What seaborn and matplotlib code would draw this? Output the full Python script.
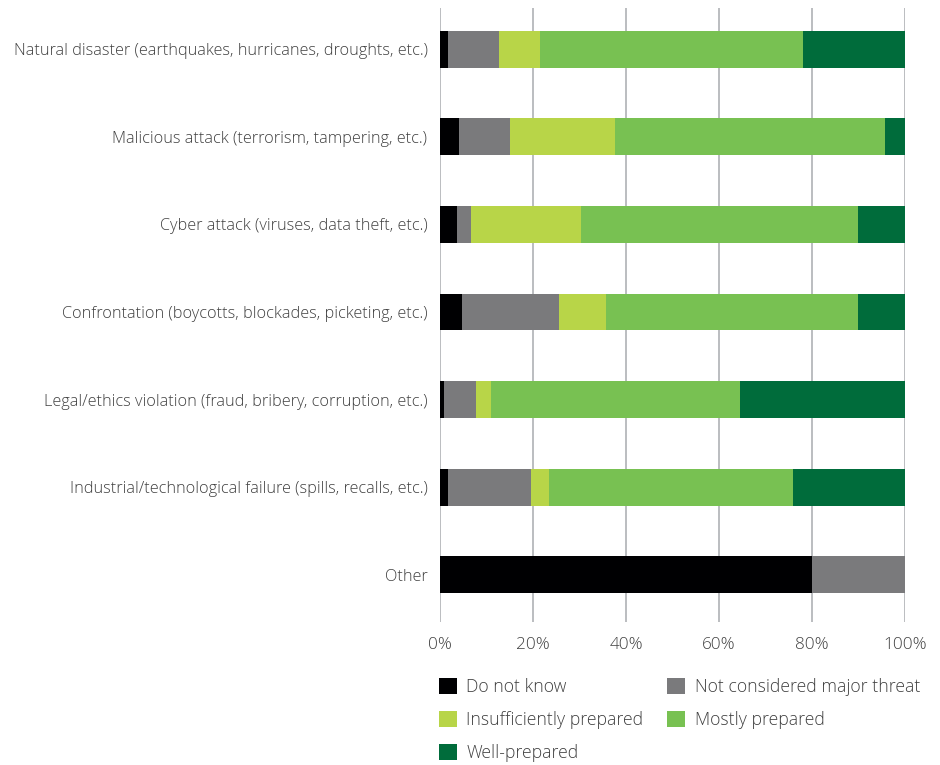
import numpy as np
import pandas as pd
import matplotlib
matplotlib.use("Agg")
import matplotlib.pyplot as plt
import seaborn as sns
from matplotlib.patches import Patch

categories = [
    "Natural disaster (earthquakes, hurricanes, droughts, etc.)",
    "Malicious attack (terrorism, tampering, etc.)",
    "Cyber attack (viruses, data theft, etc.)",
    "Confrontation (boycotts, blockades, picketing, etc.)",
    "Legal/ethics violation (fraud, bribery, corruption, etc.)",
    "Industrial/technological failure (spills, recalls, etc.)",
    "Other",
]
series_names = ["Do not know", "Not considered major threat", "Insufficiently prepared",
                "Mostly prepared", "Well-prepared"]
do_not_know   = [1.7, 4.1, 3.7, 4.7, 0.9, 1.7, 80.0]
not_major     = [11.0, 11.0, 3.0, 20.9, 6.8, 17.9, 20.0]
insufficient  = [8.8, 22.5, 23.6, 10.1, 3.3, 3.8, 0.0]
mostly        = [56.6, 58.1, 59.6, 54.2, 53.5, 52.5, 0.0]
well          = [21.9, 4.3, 10.1, 10.1, 35.5, 24.1, 0.0]
tick_values = [0, 20, 40, 60, 80, 100]
tick_labels = ["0%", "20%", "40%", "60%", "80%", "100%"]

colors = ["#000002", "#7a7a7c", "#b8d548", "#78c152", "#006c3b"]

sns.set_style("white")
plt.rcParams["font.family"] = ["Open Sans", "DejaVu Sans"]
plt.rcParams["font.weight"] = "light"
text_color = "#404040"

df = pd.DataFrame({"category": categories, "dnk": do_not_know, "nm": not_major,
                   "ins": insufficient, "mos": mostly, "well": well})
cols = ["dnk", "nm", "ins", "mos", "well"]
cum = df[cols].cumsum(axis=1)

fig = plt.figure(figsize=(9.4, 7.65), dpi=100)
ax = fig.add_axes([440/940, 1-622/765, 465/940, (622-8)/765])

for i in reversed(range(len(cols))):
    sns.barplot(data=pd.DataFrame({"category": categories, "v": cum[cols[i]]}),
                x="v", y="category", orient="h", order=categories,
                color=colors[i], saturation=1, width=0.42, ax=ax,
                edgecolor="none", linewidth=0)

ax.set_xlim(0, 100)
ax.set_ylim(6.54, -0.47)
ax.set_xticks(tick_values)
ax.set_xticklabels(tick_labels)
ax.xaxis.grid(True, color="#b5b8bb", linewidth=1.3)
ax.yaxis.grid(False)
ax.set_axisbelow(True)
for s in ax.spines.values():
    s.set_visible(False)
ax.set_xlabel("")
ax.set_ylabel("")
ax.tick_params(axis="x", length=0, pad=11, labelsize=12.3, labelcolor=text_color)
ax.tick_params(axis="y", length=0, pad=9, labelsize=11.7, labelcolor=text_color)

handles = [Patch(facecolor=colors[k], edgecolor="none") for k in range(5)]
order = [0, 2, 4, 1, 3]
leg = fig.legend([handles[k] for k in order], [series_names[k] for k in order],
                 ncol=2, loc="upper left", bbox_to_anchor=(432/940, 1-671/765),
                 frameon=False, fontsize=12.7, handlelength=1.0, handleheight=1.0,
                 handletextpad=0.55, columnspacing=1.35, labelspacing=0.86,
                 borderaxespad=0)
for t in leg.get_texts():
    t.set_color(text_color)

fig.savefig("out.png", dpi=100)
